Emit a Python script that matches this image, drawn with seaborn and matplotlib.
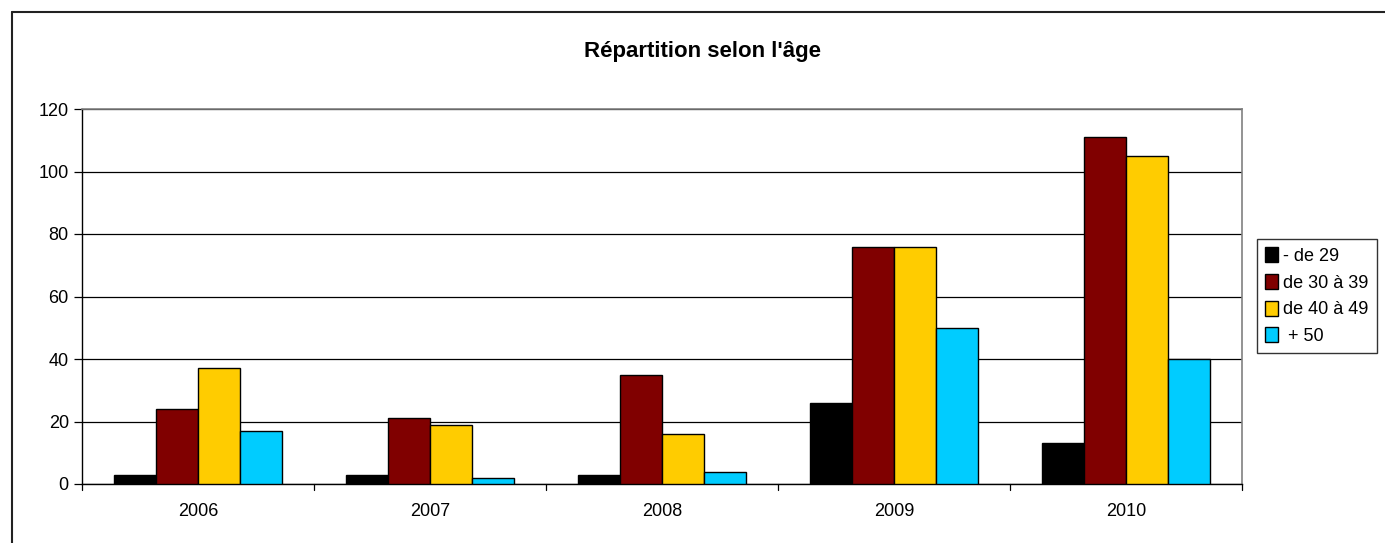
import matplotlib
matplotlib.use("Agg")
import matplotlib.pyplot as plt
import seaborn as sns
import pandas as pd
from matplotlib.lines import Line2D

years = ["2006", "2007", "2008", "2009", "2010"]
groups = ["- de 29", "de 30 à 39", "de 40 à 49", " + 50"]
v_29 = [3, 3, 3, 26, 13]
v_30_39 = [24, 21, 35, 76, 111]
v_40_49 = [37, 19, 16, 76, 105]
v_50 = [17, 2, 4, 50, 40]
colors = ["#000000", "#800000", "#FFCC00", "#00CCFF"]
yticks = [0, 20, 40, 60, 80, 100, 120]
title = "Répartition selon l'âge"

rows = []
for g, vals in zip(groups, [v_29, v_30_39, v_40_49, v_50]):
    for y, v in zip(years, vals):
        rows.append({"year": y, "group": g, "value": v})
df = pd.DataFrame(rows)

sns.set_style("white")
plt.rcParams["font.family"] = ["Liberation Sans", "DejaVu Sans"]
plt.rcParams["text.color"] = "black"

fig = plt.figure(figsize=(13.85, 5.43), dpi=100)
W, H = 1385, 543
ax = fig.add_axes([82 / W, (H - 484) / H, (1242 - 82) / W, (484 - 109) / H])

sns.barplot(data=df, x="year", y="value", hue="group", order=years,
            hue_order=groups, palette=colors, width=0.724, gap=0,
            edgecolor="black", linewidth=1.0, saturation=1, ax=ax, zorder=3)

ax.set_ylim(0, 120)
ax.set_xlim(-0.5, 4.5)
ax.set_yticks(yticks)
ax.yaxis.grid(True, color="black", linewidth=0.9, zorder=0)
ax.set_axisbelow(True)
ax.set_xlabel("")
ax.set_ylabel("")
ax.tick_params(axis="both", labelsize=13, colors="black", length=6, width=0.9,
               direction="out", left=True, bottom=False)
ax.tick_params(axis="x", pad=8)
# category boundary ticks
for xb in [-0.5, 0.5, 1.5, 2.5, 3.5, 4.5]:
    ax.plot([xb, xb], [0, -0.016], transform=ax.get_xaxis_transform(),
            color="black", lw=0.9, clip_on=False)

for s in ["left", "bottom"]:
    ax.spines[s].set_color("black")
    ax.spines[s].set_linewidth(1.0)
for s in ["top", "right"]:
    ax.spines[s].set_color("#808080")
    ax.spines[s].set_linewidth(1.2)
    ax.spines[s].set_visible(True)

leg = ax.legend(loc="upper left", bbox_to_anchor=((1257 - 82) / (1242 - 82), (484 - 239) / (484 - 109)),
                frameon=True, fancybox=False, fontsize=13, handlelength=0.7,
                handleheight=0.9, handletextpad=0.3, borderpad=0.45,
                labelspacing=0.5, borderaxespad=0)
leg.get_frame().set_edgecolor("black")
leg.get_frame().set_linewidth(1.0)
for t in leg.get_texts():
    t.set_color("black")

fig.text(703 / W, 1 - 52 / H, title, ha="center", va="center",
         fontsize=16, fontweight="bold", color="black")

# outer chart border (left and top visible)
fig.add_artist(Line2D([12 / W, 12 / W], [0, 1 - 12 / H], color="#222222", lw=1.5,
                      transform=fig.transFigure))
fig.add_artist(Line2D([12 / W, 1], [1 - 12 / H, 1 - 12 / H], color="#222222", lw=1.5,
                      transform=fig.transFigure))

fig.savefig("out.png", dpi=100)
